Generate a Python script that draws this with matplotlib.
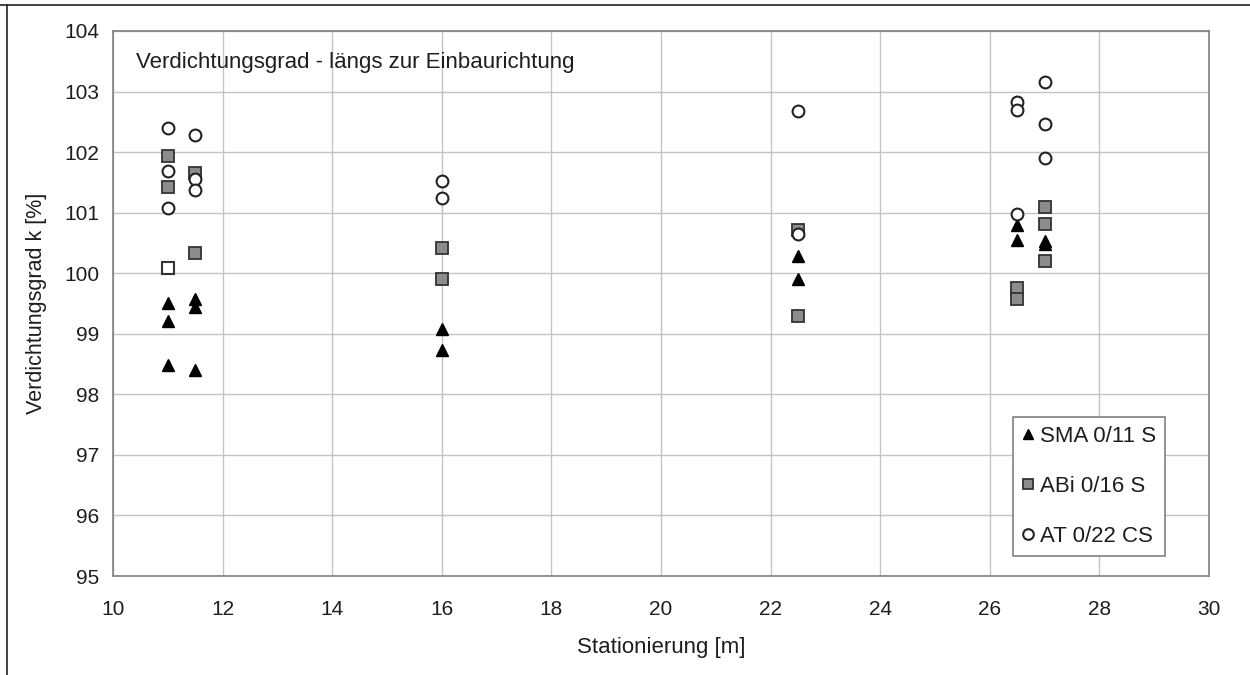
import matplotlib
matplotlib.use("Agg")
import matplotlib.pyplot as plt
from matplotlib.lines import Line2D

plt.rcParams['font.family'] = ['Liberation Sans', 'DejaVu Sans']

# SMA 0/11 S (triangles)
sma_x = [11.0, 11.0, 11.0, 11.5, 11.5, 11.5, 16.0, 16.0, 22.5, 22.5, 26.5, 26.5, 27.0, 27.0]
sma_y = [99.51, 99.21, 98.48, 99.58, 99.44, 98.41, 99.08, 98.74, 100.29, 99.91, 100.79, 100.55, 100.54, 100.48]

# ABi 0/16 S (grey squares)
abi_x = [11.0, 11.0, 11.5, 11.5, 16.0, 16.0, 22.5, 22.5, 26.5, 26.5, 27.0, 27.0, 27.0]
abi_y = [101.93, 101.43, 101.65, 100.34, 100.41, 99.90, 100.72, 99.30, 99.76, 99.58, 101.09, 100.82, 100.21]
# single hollow square
abi_hollow_x = [11.0]
abi_hollow_y = [100.08]

# AT 0/22 CS (open circles)
at_x = [11.0, 11.0, 11.0, 11.5, 11.5, 11.5, 16.0, 16.0, 22.5, 22.5, 26.5, 26.5, 26.5, 27.0, 27.0, 27.0]
at_y = [102.40, 101.69, 101.07, 102.28, 101.55, 101.38, 101.53, 101.25, 102.68, 100.65, 102.82, 102.70, 100.97, 103.15, 102.46, 101.91]

labels = ["SMA 0/11 S", "ABi 0/16 S", "AT 0/22 CS"]
xticks = list(range(10, 31, 2))
yticks = list(range(95, 105, 1))

fig = plt.figure(figsize=(12.5, 6.75), dpi=100)
ax = fig.add_axes([113/1250, 1 - 576/675, (1209-113)/1250, (576-31)/675])

txt = '#1e1e1e'
ms = 8.5
ax.plot(sma_x, sma_y, linestyle='none', marker='^', markersize=ms, color='black',
        markerfacecolor='black', markeredgecolor='black', label=labels[0], zorder=3)
ax.plot(abi_x, abi_y, linestyle='none', marker='s', markersize=ms-0.5, markerfacecolor='#8c8c8c',
        markeredgecolor='#333333', markeredgewidth=1.3, label=labels[1], zorder=3)
ax.plot(abi_hollow_x, abi_hollow_y, linestyle='none', marker='s', markersize=ms-0.5, markerfacecolor='white',
        markeredgecolor='#333333', markeredgewidth=1.5, zorder=3)
ax.plot(at_x, at_y, linestyle='none', marker='o', markersize=ms, markerfacecolor='white',
        markeredgecolor='#222222', markeredgewidth=1.5, label=labels[2], zorder=4)

ax.set_xlim(10, 30)
ax.set_ylim(95, 104)
ax.set_xticks(xticks)
ax.set_yticks(yticks)
ax.grid(True, color='#c4c4c4', linewidth=1.0)
ax.set_axisbelow(True)
for s in ax.spines.values():
    s.set_color('#808080')
    s.set_linewidth(1.2)
ax.tick_params(axis='both', length=0, labelsize=15, colors=txt)
ax.tick_params(axis='x', pad=17)
ax.tick_params(axis='y', pad=10)

ax.set_xlabel("Stationierung [m]", fontsize=16, color=txt, labelpad=13)
ax.set_ylabel("Verdichtungsgrad k [%]", fontsize=15.5, color=txt, labelpad=12)

ax.text(0.021, 0.932, "Verdichtungsgrad - längs zur Einbaurichtung", transform=ax.transAxes,
        fontsize=16, color=txt, ha='left', va='baseline')

leg = ax.legend(loc='lower right', bbox_to_anchor=(0.96, 0.037), borderaxespad=0, fontsize=16,
                frameon=True, fancybox=False, edgecolor='#808080', framealpha=1, handlelength=0.55,
                handletextpad=0.25, labelspacing=1.3, borderpad=0.4, markerscale=0.9)
leg.get_frame().set_linewidth(1.2)
for t in leg.get_texts():
    t.set_color(txt)

fig.add_artist(Line2D([0, 1], [1 - 5/675, 1 - 5/675], transform=fig.transFigure, color='#222222', linewidth=1.2))
fig.add_artist(Line2D([7/1250, 7/1250], [0, 1 - 5/675], transform=fig.transFigure, color='#222222', linewidth=1.2))

fig.savefig("out.png", dpi=100)
